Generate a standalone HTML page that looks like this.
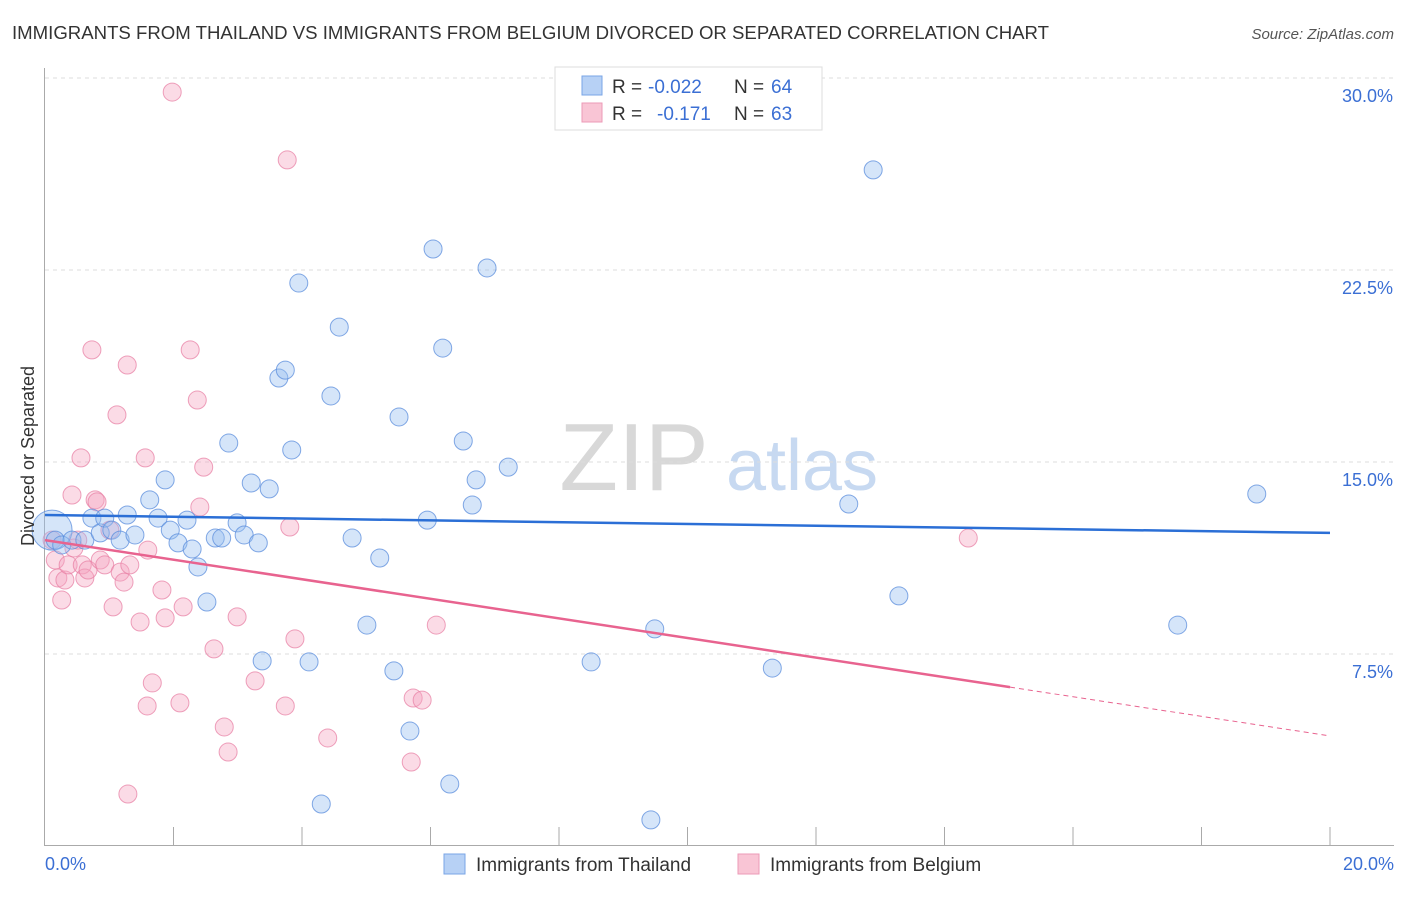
<!DOCTYPE html>
<html><head><meta charset="utf-8">
<style>
body{margin:0;background:#fff;font-family:"Liberation Sans",sans-serif;}
svg text{font-family:"Liberation Sans",sans-serif;}
</style></head>
<body>
<svg id="chart" width="1406" height="892" xmlns="http://www.w3.org/2000/svg">
<text x="12" y="39" font-size="18" fill="#333" textLength="1037" lengthAdjust="spacingAndGlyphs">IMMIGRANTS FROM THAILAND VS IMMIGRANTS FROM BELGIUM DIVORCED OR SEPARATED CORRELATION CHART</text>
<text x="1394" y="39" font-size="15" fill="#555" text-anchor="end" font-style="italic">Source: ZipAtlas.com</text>
<g>
<text x="634" y="490" font-size="96" fill="#d8d8d8" text-anchor="middle" font-family="Liberation Serif, serif">ZIP</text>
<text x="802" y="490" font-size="72" fill="#c7d9f1" text-anchor="middle">atlas</text>
</g>
<g id="grid"></g>
<g id="axes"></g>
<g id="marks"></g>
<g id="trends"></g>
<text transform="translate(34,456) rotate(-90)" font-size="18" fill="#333" text-anchor="middle">Divorced or Separated</text>
<g>
<rect x="555" y="67" width="267" height="63" fill="#fff" stroke="#ddd"/>
<g>
<rect x="582" y="76" width="20" height="19" fill="#b7d1f5" stroke="#7aa5e6"/>
<text x="612" y="93" font-size="19" fill="#333">R = </text><text x="648" y="93" font-size="19" fill="#3b6fd4">-0.022</text>
<text x="734" y="93" font-size="19" fill="#333">N = </text><text x="771" y="93" font-size="19" fill="#3b6fd4">64</text>
</g>
<g>
<rect x="582" y="103" width="20" height="19" fill="#f9c5d5" stroke="#ec9ab7"/>
<text x="612" y="120" font-size="19" fill="#333">R = </text><text x="657" y="120" font-size="19" fill="#3b6fd4">-0.171</text>
<text x="734" y="120" font-size="19" fill="#333">N = </text><text x="771" y="120" font-size="19" fill="#3b6fd4">63</text>
</g>
</g>
<g>
<g>
<rect x="444" y="854" width="21" height="20" fill="#b7d1f5" stroke="#7aa5e6"/>
<text x="476" y="871" font-size="19" fill="#333">Immigrants from Thailand</text></g>
<g>
<rect x="738" y="854" width="21" height="20" fill="#f9c5d5" stroke="#ec9ab7"/>
<text x="770" y="871" font-size="19" fill="#333">Immigrants from Belgium</text></g>
</g>
</svg>
<script>
const yTicks=[7.5,15,22.5,30];
const yTickLabels=["7.5%","15.0%","22.5%","30.0%"];
const xTickLabels=["0.0%","20.0%"];
const thX=[0.11,0.16,0.26,0.42,0.62,0.73,0.86,0.93,1.04,1.17,1.28,1.40,1.63,1.76,1.87,1.95,2.07,2.21,2.29,2.38,2.52,2.65,2.75,2.86,2.99,3.10,3.21,3.32,3.49,3.38,3.64,3.74,3.84,3.95,4.11,4.30,4.45,4.58,4.78,5.01,5.21,5.43,5.51,5.68,5.95,6.04,6.19,6.30,6.51,6.65,6.71,6.88,7.21,8.50,9.43,9.49,11.32,12.51,12.89,13.29,17.63,18.86];
const thY=[12.34,11.95,11.76,11.95,11.95,12.81,12.23,12.81,12.34,11.95,12.93,12.15,13.52,12.81,14.30,12.34,11.84,12.73,11.60,10.90,9.53,12.03,12.03,15.74,12.62,12.15,14.18,11.84,13.95,7.23,18.28,18.59,15.47,21.99,7.19,1.64,17.58,20.27,12.03,8.63,11.25,6.84,16.76,4.49,12.73,23.32,19.45,2.42,15.82,13.32,14.30,22.58,14.80,7.19,1.02,8.48,6.95,13.36,26.41,9.77,8.63,13.75];
const beX=[0.11,0.16,0.20,0.26,0.31,0.36,0.42,0.45,0.51,0.58,0.62,0.67,0.73,0.78,0.81,0.86,0.93,1.01,1.06,1.12,1.17,1.23,1.28,1.32,1.48,1.56,1.60,1.67,1.59,1.29,1.82,1.87,1.98,2.10,2.15,2.26,2.37,2.41,2.47,2.63,2.79,2.85,2.99,3.27,3.77,3.81,3.74,3.89,4.40,5.70,5.73,5.87,6.09,14.37,0.56];
const beY=[11.95,11.17,10.47,9.61,10.39,10.98,13.71,11.64,11.95,10.98,10.47,10.78,19.38,13.52,13.44,11.17,10.98,12.34,9.34,16.84,10.70,10.31,18.79,10.98,8.75,15.16,11.56,6.37,5.47,2.03,10.00,8.91,29.45,5.59,9.34,19.38,17.42,13.24,14.80,7.70,4.65,3.67,8.95,6.45,26.80,12.46,5.47,8.09,4.22,3.28,5.78,5.70,8.63,12.03,15.16];
const thTrend=[12.93,12.23];
const beTrend=[11.95,4.30];
const beSolidEnd=15.02;

const NS="http://www.w3.org/2000/svg";
const X=v=>45+v/20*1285;
const Y=v=>846-v/7.5*192;
function mk(tag,attrs,parent){const e=document.createElementNS(NS,tag);for(const k in attrs)e.setAttribute(k,attrs[k]);document.getElementById(parent).appendChild(e);return e;}
yTicks.forEach((t,i)=>{
 const g=mk('line',{x1:45,x2:1394,y1:Y(t),y2:Y(t),stroke:'#ddd','stroke-dasharray':'4,4'},'grid');
 
 
 const l=mk('text',{x:1393,y:Y(t)+24,'font-size':18,fill:'#3b6fd4','text-anchor':'end'},'axes');
 l.textContent=yTickLabels[i];
 
 
});
let a=mk('line',{x1:44.5,x2:44.5,y1:68,y2:846,stroke:'#aaa'},'axes');


a=mk('line',{x1:44,x2:1394,y1:845.5,y2:845.5,stroke:'#aaa'},'axes');


for(let i=1;i<=10;i++){
 const t=mk('line',{x1:X(i*2),x2:X(i*2),y1:827,y2:846,stroke:'#aaa'},'axes');
 
 
}
[[0,'start',45],[20,'end',1394]].forEach((d,i)=>{
 const l=mk('text',{x:d[2],y:870,'font-size':18,fill:'#3b6fd4','text-anchor':d[1]},'axes');
 l.textContent=xTickLabels[i];
 
 
});
beX.forEach((x,i)=>{
 const c=mk('circle',{cx:X(x),cy:Y(beY[i]),r:9,fill:'rgba(245,165,192,0.4)',stroke:'rgba(232,130,165,0.75)'},'marks');
 
 
});
thX.forEach((x,i)=>{
 const c=mk('circle',{cx:X(x),cy:Y(thY[i]),r:i===0?20:9,fill:'rgba(150,190,240,0.4)',stroke:'rgba(90,140,220,0.75)'},'marks');
 
 
});
let t=mk('line',{x1:X(0),y1:Y(thTrend[0]),x2:X(20),y2:Y(thTrend[1]),stroke:'#2b6fd6','stroke-width':2.5},'trends');


const bY=x=>beTrend[0]+(beTrend[1]-beTrend[0])*x/20;
t=mk('line',{x1:X(0),y1:Y(bY(0)),x2:X(beSolidEnd),y2:Y(bY(beSolidEnd)),stroke:'#e8638f','stroke-width':2.5},'trends');


t=mk('line',{x1:X(beSolidEnd),y1:Y(bY(beSolidEnd)),x2:X(20),y2:Y(bY(20)),stroke:'#e8638f','stroke-width':1,'stroke-dasharray':'5,4'},'trends');


</script>
</body></html>
